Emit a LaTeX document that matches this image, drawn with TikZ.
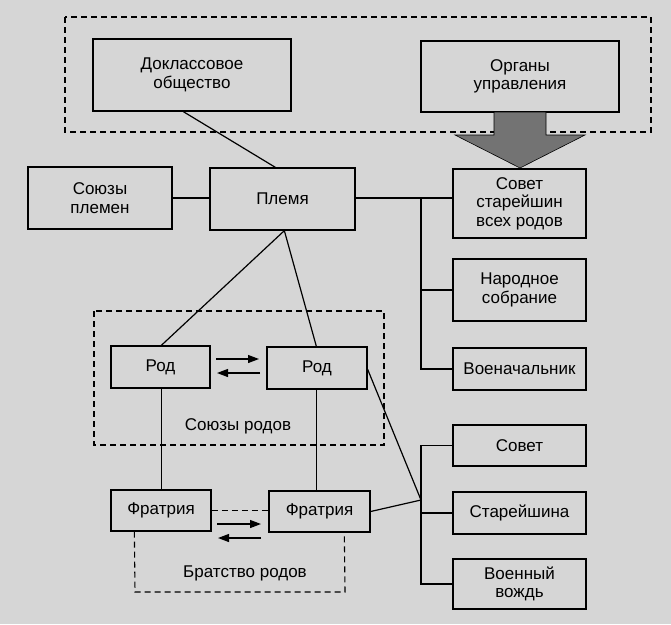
\documentclass[tikz,border=0pt]{standalone}
\usepackage{fontspec}
\setmainfont{Liberation Sans}
\usetikzlibrary{arrows.meta,calc}
\definecolor{paper}{gray}{0.84}
\definecolor{arrowgray}{gray}{0.45}
\begin{document}
\begin{tikzpicture}[x=1pt,y=-1pt,
  box/.style={draw=black,line width=1.3pt,align=center,inner sep=0pt,
    font=\fontsize{17}{18.5}\selectfont},
  conn/.style={line width=1.2pt},
  grp/.style={dashed,line width=1.1pt,dash pattern=on 6pt off 4pt},
  lbl/.style={font=\fontsize{17}{18.5}\selectfont,inner sep=0pt},
  dirarrow/.style={line width=1.2pt,-{Triangle[length=11pt,width=8pt]}}]
\fill[paper] (0,0) rectangle (671,624);
\useasboundingbox (0,0) rectangle (671,624);

% outer dashed group
\draw[grp] (65,17) rectangle (651,132);
% Союзы родов group
\draw[grp] (94,311) rectangle (384,445);

\node[box,minimum width=198pt,minimum height=72pt] (dok) at (192,75) {Доклассовое\\общество};
\node[box,minimum width=198pt,minimum height=71pt] (org) at (520,76.5) {Органы\\управления};
\node[box,minimum width=144pt,minimum height=62pt] (soyuzy) at (100,198) {Союзы\\племен};
\node[box,minimum width=145pt,minimum height=62pt] (plemya) at (282.5,199) {Племя};
\node[box,minimum width=133pt,minimum height=69pt] (sovst) at (519.5,203.5) {Совет\\старейшин\\всех родов};
\node[box,minimum width=133pt,minimum height=62pt] (narod) at (519.5,290) {Народное\\собрание};
\node[box,minimum width=133pt,minimum height=42pt] (voenach) at (519.5,369) {Военачальник};
\node[box,minimum width=99pt,minimum height=42pt] (rod1) at (160.5,367) {Род};
\node[box,minimum width=100pt,minimum height=42pt] (rod2) at (317,368) {Род};
\node[box,minimum width=100pt,minimum height=41pt] (fr1) at (161,510.5) {Фратрия};
\node[box,minimum width=101pt,minimum height=41pt] (fr2) at (319.5,511.5) {Фратрия};
\node[box,minimum width=133pt,minimum height=41pt] (sovet) at (519.5,445.5) {Совет};
\node[box,minimum width=133pt,minimum height=42pt] (star) at (519.5,513) {Старейшина};
\node[box,minimum width=133pt,minimum height=50pt] (voen) at (519.5,584) {Военный\\вождь};

\node[lbl] (lsr) at (238,426) {Союзы родов};
\node[lbl] (lbr) at (245,573) {Братство родов};

% Братство родов group
\draw[grp] ($(fr1.south west)+(24,0)$) -- (135,592) -- (345,592) -- ($(fr2.south west)+(76,1)$);
\draw[grp] (fr1.east) -- (fr1.east -| fr2.west);

% gray arrow
\draw[fill=arrowgray,line width=0.6pt] (494,112) -- (494,135) -- (455,135) -- (520,168) -- (585,135) -- (546,135) -- (546,112) -- cycle;

% connectors
\draw[conn] ($(dok.south west)+(91,0)$) -- ($(plemya.north west)+(66,0)$);
\draw[conn] (soyuzy.east) -- (soyuzy.east -| plemya.west);
\coordinate (ptop) at ($(plemya.east)+(0,-1)$);
\coordinate (t1) at (421,198);
\draw[conn] (ptop) -- (ptop -| sovst.west);
\draw[conn] (t1) -- (t1 |- voenach.west) -- (voenach.west);
\draw[conn] (t1 |- narod.west) -- (narod.west);

\coordinate (pb) at ($(plemya.south west)+(75,0)$);
\draw[conn] (pb) -- ($(rod1.north west)+(51,0)$);
\draw[conn] (pb) -- ($(rod2.north west)+(50,0)$);
\draw[conn] ($(rod1.south west)+(51,0)$) -- ($(fr1.north west)+(51,0)$);
\draw[conn] ($(rod2.south west)+(50,0)$) -- ($(fr2.north west)+(48,0)$);

\coordinate (j) at (421,500);
\draw[conn] ($(rod2.north east)+(0,23)$) -- (j);
\draw[conn] (fr2.east) -- (j);
\draw[conn] (sovet.west) -- (sovet.west -| j) -- (voen.west -| j) -- (voen.west);
\draw[conn] (star.west -| j) -- (star.west);

% direction arrows
\draw[dirarrow] (216,359) -- (259,359);
\draw[dirarrow] (260,373) -- (217,373);
\draw[dirarrow] (217,524) -- (261,524);
\draw[dirarrow] (261,538) -- (218,538);
\end{tikzpicture}
\end{document}
